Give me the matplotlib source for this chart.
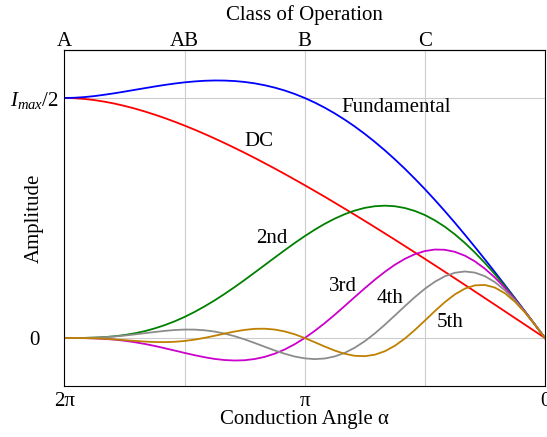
import numpy as np
import matplotlib
matplotlib.use("Agg")
import matplotlib.pyplot as plt

plt.rcParams['font.family'] = ['Liberation Serif', 'DejaVu Serif']
plt.rcParams['mathtext.fontset'] = 'custom'
plt.rcParams['mathtext.rm'] = 'Liberation Serif'
plt.rcParams['mathtext.it'] = 'Liberation Serif:italic'

# conduction angle, degrees (0 .. 360)
alpha_deg = [0, 7.5, 15, 22.5, 30, 37.5, 45, 52.5, 60, 67.5, 75, 82.5,
             90, 97.5, 105, 112.5, 120, 127.5, 135, 142.5, 150, 157.5,
             165, 172.5, 180, 187.5, 195, 202.5, 210, 217.5, 225, 232.5,
             240, 247.5, 255, 262.5, 270, 277.5, 285, 292.5, 300, 307.5,
             315, 322.5, 330, 337.5, 345, 352.5, 360]

# current components, normalised to Imax
dc = [0, 0.0139, 0.0278, 0.0416, 0.0555, 0.0693, 0.0831, 0.0969, 0.1106,
      0.1243, 0.1379, 0.1514, 0.1649, 0.1783, 0.1916, 0.2049, 0.2180,
      0.2310, 0.2439, 0.2567, 0.2693, 0.2818, 0.2942, 0.3063, 0.3183,
      0.3301, 0.3417, 0.3531, 0.3642, 0.3751, 0.3857, 0.3960, 0.4060,
      0.4157, 0.4250, 0.4340, 0.4425, 0.4506, 0.4583, 0.4654, 0.4720,
      0.4781, 0.4835, 0.4883, 0.4923, 0.4956, 0.4980, 0.4995, 0.5]
fundamental = [0, 0.0278, 0.0555, 0.0830, 0.1102, 0.1372, 0.1637, 0.1897,
               0.2152, 0.2401, 0.2642, 0.2876, 0.3102, 0.3318, 0.3526,
               0.3723, 0.3910, 0.4086, 0.4252, 0.4406, 0.4548, 0.4679,
               0.4798, 0.4905, 0.5, 0.5084, 0.5156, 0.5216, 0.5266, 0.5305,
               0.5334, 0.5353, 0.5363, 0.5365, 0.5359, 0.5345, 0.5326,
               0.5301, 0.5272, 0.5239, 0.5204, 0.5169, 0.5133, 0.5099,
               0.5068, 0.5040, 0.5019, 0.5005, 0.5]
h2 = [0, 0.0277, 0.0552, 0.0820, 0.1080, 0.1328, 0.1562, 0.1780, 0.1980,
      0.2159, 0.2317, 0.2451, 0.2562, 0.2647, 0.2708, 0.2745, 0.2757,
      0.2745, 0.2711, 0.2655, 0.2580, 0.2487, 0.2379, 0.2256, 0.2122,
      0.1979, 0.1829, 0.1675, 0.1519, 0.1364, 0.1210, 0.1061, 0.0919,
      0.0784, 0.0659, 0.0544, 0.0439, 0.0347, 0.0267, 0.0199, 0.0142,
      0.0097, 0.0062, 0.0036, 0.0019, 0.0008, 0.0002, 0.0000, 0]
h3 = [0, 0.0277, 0.0547, 0.0804, 0.1043, 0.1258, 0.1443, 0.1597, 0.1715,
      0.1795, 0.1838, 0.1843, 0.1811, 0.1746, 0.1649, 0.1525, 0.1378,
      0.1214, 0.1037, 0.0854, 0.0668, 0.0485, 0.0310, 0.0148, 0,
      -0.0129, -0.0239, -0.0327, -0.0393, -0.0438, -0.0463, -0.0469,
      -0.0459, -0.0436, -0.0401, -0.0358, -0.0311, -0.0261, -0.0212,
      -0.0165, -0.0123, -0.0087, -0.0057, -0.0034, -0.0018, -0.0008,
      -0.0002, -0.0000, 0]
h4 = [0, 0.0276, 0.0540, 0.0783, 0.0993, 0.1163, 0.1288, 0.1362, 0.1386,
      0.1359, 0.1286, 0.1172, 0.1025, 0.0852, 0.0663, 0.0468, 0.0276,
      0.0095, -0.0066, -0.0202, -0.0309, -0.0384, -0.0427, -0.0440,
      -0.0424, -0.0386, -0.0328, -0.0259, -0.0182, -0.0104, -0.0029,
      0.0037, 0.0092, 0.0134, 0.0161, 0.0175, 0.0176, 0.0166, 0.0148,
      0.0125, 0.0100, 0.0074, 0.0051, 0.0032, 0.0017, 0.0008, 0.0002,
      0.0000, 0]
h5 = [0, 0.0275, 0.0532, 0.0755, 0.0931, 0.1050, 0.1105, 0.1097, 0.1029,
      0.0909, 0.0748, 0.0561, 0.0362, 0.0167, -0.0012, -0.0162, -0.0276,
      -0.0348, -0.0379, -0.0371, -0.0329, -0.0262, -0.0178, -0.0088, 0,
      0.0077, 0.0137, 0.0176, 0.0194, 0.0191, 0.0169, 0.0135, 0.0092,
      0.0046, 0.0003, -0.0034, -0.0062, -0.0079, -0.0086, -0.0084,
      -0.0074, -0.0060, -0.0044, -0.0029, -0.0016, -0.0007, -0.0002,
      -0.0000, 0]

class_labels = ['A', 'AB', 'B', 'C']
class_angles = [2 * np.pi, 1.5 * np.pi, np.pi, 0.5 * np.pi]

x = np.radians(alpha_deg)

fig = plt.figure(figsize=(5.47, 4.37), dpi=100)
ax = fig.add_axes([0.1179, 0.1167, 0.8784, 0.7689])

ax.plot(x, dc, color='#ff0000', lw=1.3)
ax.plot(x, fundamental, color='#0000ff', lw=1.3)
ax.plot(x, h2, color='#008000', lw=1.3)
ax.plot(x, h3, color='#cc00cc', lw=1.3)
ax.plot(x, h4, color='#8c8c8c', lw=1.3)
ax.plot(x, h5, color='#bf8000', lw=1.3)

# curve labels
fs = 15
ax.text(1.942, 0.470, 'Fundamental', ha='center', va='baseline', fontsize=fs)
ax.text(3.740, 0.3995, 'DC', ha='center', va='baseline', fontsize=fs)
ax.text(3.570, 0.198, '2nd', ha='center', va='baseline', fontsize=fs)
ax.text(2.642, 0.098, '3rd', ha='center', va='baseline', fontsize=fs)
ax.text(2.027, 0.073, '4th', ha='center', va='baseline', fontsize=fs)
ax.text(1.242, 0.023, '5th', ha='center', va='baseline', fontsize=fs)

ax.set_xlim(2 * np.pi, 0)
ax.set_ylim(-0.1, 0.6)

ax.set_xticks([2 * np.pi, np.pi, 0])
ax.set_xticklabels(['2π', 'π', '0'])
ax.set_xticks([1.5 * np.pi, 0.5 * np.pi], minor=True)
ax.set_yticks([0, 0.5])
ax.set_yticklabels(['0', r'$I_{max}$/2'])
ax.tick_params(axis='both', which='both', length=0, labelsize=fs)
ax.tick_params(axis='x', pad=4)
ax.tick_params(axis='y', pad=21.6)
for lab in ax.get_yticklabels():
    lab.set_horizontalalignment('center')
ax.grid(True, which='both', color='#cccccc', lw=0.8)
ax.set_axisbelow(True)

ax.set_xlabel('Conduction Angle α', fontsize=fs, labelpad=-0.5)
ax.set_ylabel('Amplitude', fontsize=fs)
ax.yaxis.label.set_va('center')
ax.yaxis.set_label_coords(-0.0635, 0.5)

# class of operation along the top
top = ax.secondary_xaxis('top')
top.set_xticks(class_angles)
top.set_xticklabels(class_labels)
top.tick_params(length=0, pad=-1, labelsize=fs)
top.set_xlabel('Class of Operation', fontsize=fs, labelpad=9)

fig.savefig('out.png', dpi=100)
